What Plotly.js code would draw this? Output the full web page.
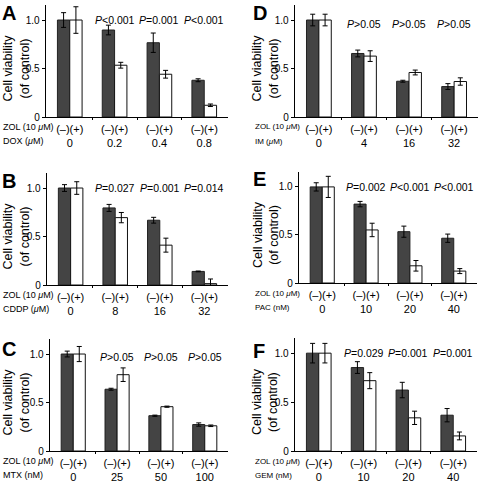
<!DOCTYPE html>
<html>
<head>
<meta charset="utf-8">
<script src="https://cdn.plot.ly/plotly-3.0.1.min.js"></script>
<style>html,body{margin:0;padding:0;background:#fff;}#chart{width:480px;height:482px;}</style>
</head>
<body>
<div id="chart"></div>
<script>
// ---- data ----
const panelLetters = ["A", "B", "C", "D", "E", "F"];
const zolLabel = "ZOL (10 <i>μ</i>M)";
const drugLabels = ["DOX (<i>μ</i>M)", "CDDP (<i>μ</i>M)", "MTX (nM)", "IM (<i>μ</i>M)", "PAC (nM)", "GEM (nM)"];
const groupText = "(–)(+)";
const yTickVals = [0, 0.5, 1.0];
const yTickText = ["0", "0.5", "1.0"];
const yTitle = "Cell viability<br>(of control)";

const dosesA = ["0", "0.2", "0.4", "0.8"];
const ctrlA = [1.0, 0.897, 0.766, 0.379];
const ctrlErrA = [0.076, 0.05, 0.1, 0.015];
const zolA = [1.0, 0.534, 0.441, 0.121];
const zolErrA = [0.137, 0.03, 0.04, 0.013];
const pA = ["<i>P</i>&lt;0.001", "<i>P</i>=0.001", "<i>P</i>&lt;0.001"];

const dosesB = ["0", "8", "16", "32"];
const ctrlB = [1.0, 0.795, 0.668, 0.14];
const ctrlErrB = [0.035, 0.036, 0.03, 0.004];
const zolB = [1.0, 0.695, 0.411, 0.014];
const zolErrB = [0.065, 0.053, 0.072, 0.048];
const pB = ["<i>P</i>=0.027", "<i>P</i>=0.001", "<i>P</i>=0.014"];

const dosesC = ["0", "25", "50", "100"];
const ctrlC = [1.0, 0.637, 0.364, 0.273];
const ctrlErrC = [0.03, 0.01, 0.006, 0.017];
const zolC = [1.0, 0.787, 0.457, 0.26];
const zolErrC = [0.078, 0.07, 0.006, 0.008];
const pC = ["<i>P</i>&gt;0.05", "<i>P</i>&gt;0.05", "<i>P</i>&gt;0.05"];

const dosesD = ["0", "4", "16", "32"];
const ctrlD = [1.0, 0.655, 0.369, 0.314];
const ctrlErrD = [0.06, 0.035, 0.01, 0.03];
const zolD = [1.0, 0.628, 0.459, 0.366];
const zolErrD = [0.06, 0.055, 0.025, 0.038];
const pD = ["<i>P</i>&gt;0.05", "<i>P</i>&gt;0.05", "<i>P</i>&gt;0.05"];

const dosesE = ["0", "10", "20", "40"];
const ctrlE = [1.0, 0.821, 0.534, 0.466];
const ctrlErrE = [0.043, 0.028, 0.058, 0.043];
const zolE = [1.0, 0.552, 0.179, 0.124];
const zolErrE = [0.11, 0.07, 0.055, 0.026];
const pE = ["<i>P</i>=0.002", "<i>P</i>&lt;0.001", "<i>P</i>&lt;0.001"];

const dosesF = ["0", "10", "20", "40"];
const ctrlF = [1.0, 0.853, 0.623, 0.366];
const ctrlErrF = [0.1, 0.06, 0.079, 0.068];
const zolF = [1.0, 0.719, 0.339, 0.154];
const zolErrF = [0.1, 0.082, 0.068, 0.04];
const pF = ["<i>P</i>=0.029", "<i>P</i>=0.001", "<i>P</i>=0.001"];

// ---- layout / drawing ----
const W = 480, H = 482;
const FONT = "Liberation Sans, Arial, Helvetica, sans-serif";
const fx = px => px / W;
const fy = px => 1 - px / H;

const panels = [
  {doses: dosesA, ctrl: ctrlA, ctrlErr: ctrlErrA, zol: zolA, zolErr: zolErrA, p: pA},
  {doses: dosesB, ctrl: ctrlB, ctrlErr: ctrlErrB, zol: zolB, zolErr: zolErrB, p: pB},
  {doses: dosesC, ctrl: ctrlC, ctrlErr: ctrlErrC, zol: zolC, zolErr: zolErrC, p: pC},
  {doses: dosesD, ctrl: ctrlD, ctrlErr: ctrlErrD, zol: zolD, zolErr: zolErrD, p: pD},
  {doses: dosesE, ctrl: ctrlE, ctrlErr: ctrlErrE, zol: zolE, zolErr: zolErrE, p: pE},
  {doses: dosesF, ctrl: ctrlF, ctrlErr: ctrlErrF, zol: zolF, zolErr: zolErrF, p: pF}
];

// pixel geometry of each plot area
const geom = [
  {x0: 46, x1: 228, y0: 5, y1: 117, letterX: 0, letterY: 13, titleX: 16, rowX: 1, rowSize: 9, pY: 1.005},
  {x0: 47, x1: 228, y0: 173, y1: 285, letterX: 0, letterY: 181, titleX: 16, rowX: 1, rowSize: 9, pY: 1.0},
  {x0: 50, x1: 228, y0: 339, y1: 451, letterX: 0, letterY: 349, titleX: 16, rowX: 1, rowSize: 9, pY: 0.965},
  {x0: 295, x1: 478, y0: 5, y1: 117, letterX: 251, letterY: 13, titleX: 265, rowX: 253, rowSize: 8, pY: 0.96},
  {x0: 299, x1: 477, y0: 172, y1: 283, letterX: 251, letterY: 179, titleX: 266, rowX: 253, rowSize: 8, pY: 1.0},
  {x0: 295, x1: 477, y0: 338, y1: 451, letterX: 251, letterY: 351, titleX: 265, rowX: 253, rowSize: 8, pY: 1.0}
];

const data = [];
const layout = {
  width: W, height: H,
  margin: {l: 0, r: 0, t: 0, b: 0},
  paper_bgcolor: "#fff", plot_bgcolor: "rgba(0,0,0,0)",
  showlegend: false,
  barmode: "group", bargap: 0.45, bargroupgap: 0,
  font: {family: FONT, color: "#000", size: 10},
  annotations: []
};

const cats = [0, 1, 2, 3];

panels.forEach((pn, i) => {
  const s = i === 0 ? "" : String(i + 1);
  const g = geom[i];
  const xa = "x" + s, ya = "y" + s;
  data.push({
    type: "bar", x: cats, y: pn.ctrl, xaxis: xa, yaxis: ya, offsetgroup: "ctrl",
    marker: {color: "#444444", line: {color: "#222", width: 1}},
    error_y: {type: "data", array: pn.ctrlErr, color: "#000", thickness: 1, width: 2.5},
    hoverinfo: "skip"
  });
  data.push({
    type: "bar", x: cats, y: pn.zol, xaxis: xa, yaxis: ya, offsetgroup: "zol",
    marker: {color: "#fff", line: {color: "#111", width: 1}},
    error_y: {type: "data", array: pn.zolErr, color: "#000", thickness: 1, width: 2.5},
    hoverinfo: "skip"
  });
  layout["xaxis" + s] = {
    domain: [fx(g.x0), fx(g.x1)], anchor: ya,
    range: [-0.53, 3.53], fixedrange: true,
    showline: true, linecolor: "#000", linewidth: 1.3,
    showgrid: false, zeroline: false,
    tickmode: "array", tickvals: cats,
    ticktext: pn.doses.map(d => groupText + "<br>" + d),
    ticks: "", ticklabelstandoff: 1,
    tickfont: {family: FONT, size: 11, color: "#000"},
    minor: {tickmode: "array", tickvals: [0.5, 1.5, 2.5], ticks: "outside", ticklen: 2, tickwidth: 1, tickcolor: "#000"}
  };
  layout["yaxis" + s] = {
    domain: [fy(g.y1), fy(g.y0)], anchor: xa,
    range: [0, 1.155], fixedrange: true,
    showline: true, linecolor: "#000", linewidth: 1.3,
    showgrid: false, zeroline: false,
    tickmode: "array", tickvals: yTickVals, ticktext: yTickText,
    ticks: "outside", ticklen: 3, tickwidth: 1, tickcolor: "#000",
    tickfont: {family: FONT, size: 10, color: "#000"}
  };
  // panel letter
  layout.annotations.push({
    xref: "paper", yref: "paper", x: fx(g.letterX), y: fy(g.letterY),
    xanchor: "left", yanchor: "middle", showarrow: false,
    text: "<b>" + panelLetters[i] + "</b>",
    font: {family: FONT, size: 20, color: "#000"}
  });
  // y title
  layout.annotations.push({
    xref: "paper", yref: ya, x: fx(g.titleX), y: 0.5,
    xanchor: "center", yanchor: "middle", showarrow: false, textangle: -90,
    text: yTitle, font: {family: FONT, size: 12.5, color: "#000"}
  });
  // row labels
  layout.annotations.push({
    xref: "paper", yref: "paper", x: fx(g.rowX), y: fy(g.y1 + 10),
    xanchor: "left", yanchor: "middle", showarrow: false,
    text: zolLabel, font: {family: FONT, size: g.rowSize, color: "#000"}
  });
  layout.annotations.push({
    xref: "paper", yref: "paper", x: fx(g.rowX), y: fy(g.y1 + 24),
    xanchor: "left", yanchor: "middle", showarrow: false,
    text: drugLabels[i], font: {family: FONT, size: g.rowSize, color: "#000"}
  });
  // p-values
  pn.p.forEach((t, k) => {
    layout.annotations.push({
      xref: xa, yref: ya, x: k + 1, y: g.pY,
      xanchor: "center", yanchor: "middle", showarrow: false,
      text: t, font: {family: FONT, size: 10.5, color: "#000"}
    });
  });
});

Plotly.newPlot("chart", data, layout, {staticPlot: true, displayModeBar: false});
</script>
</body>
</html>
